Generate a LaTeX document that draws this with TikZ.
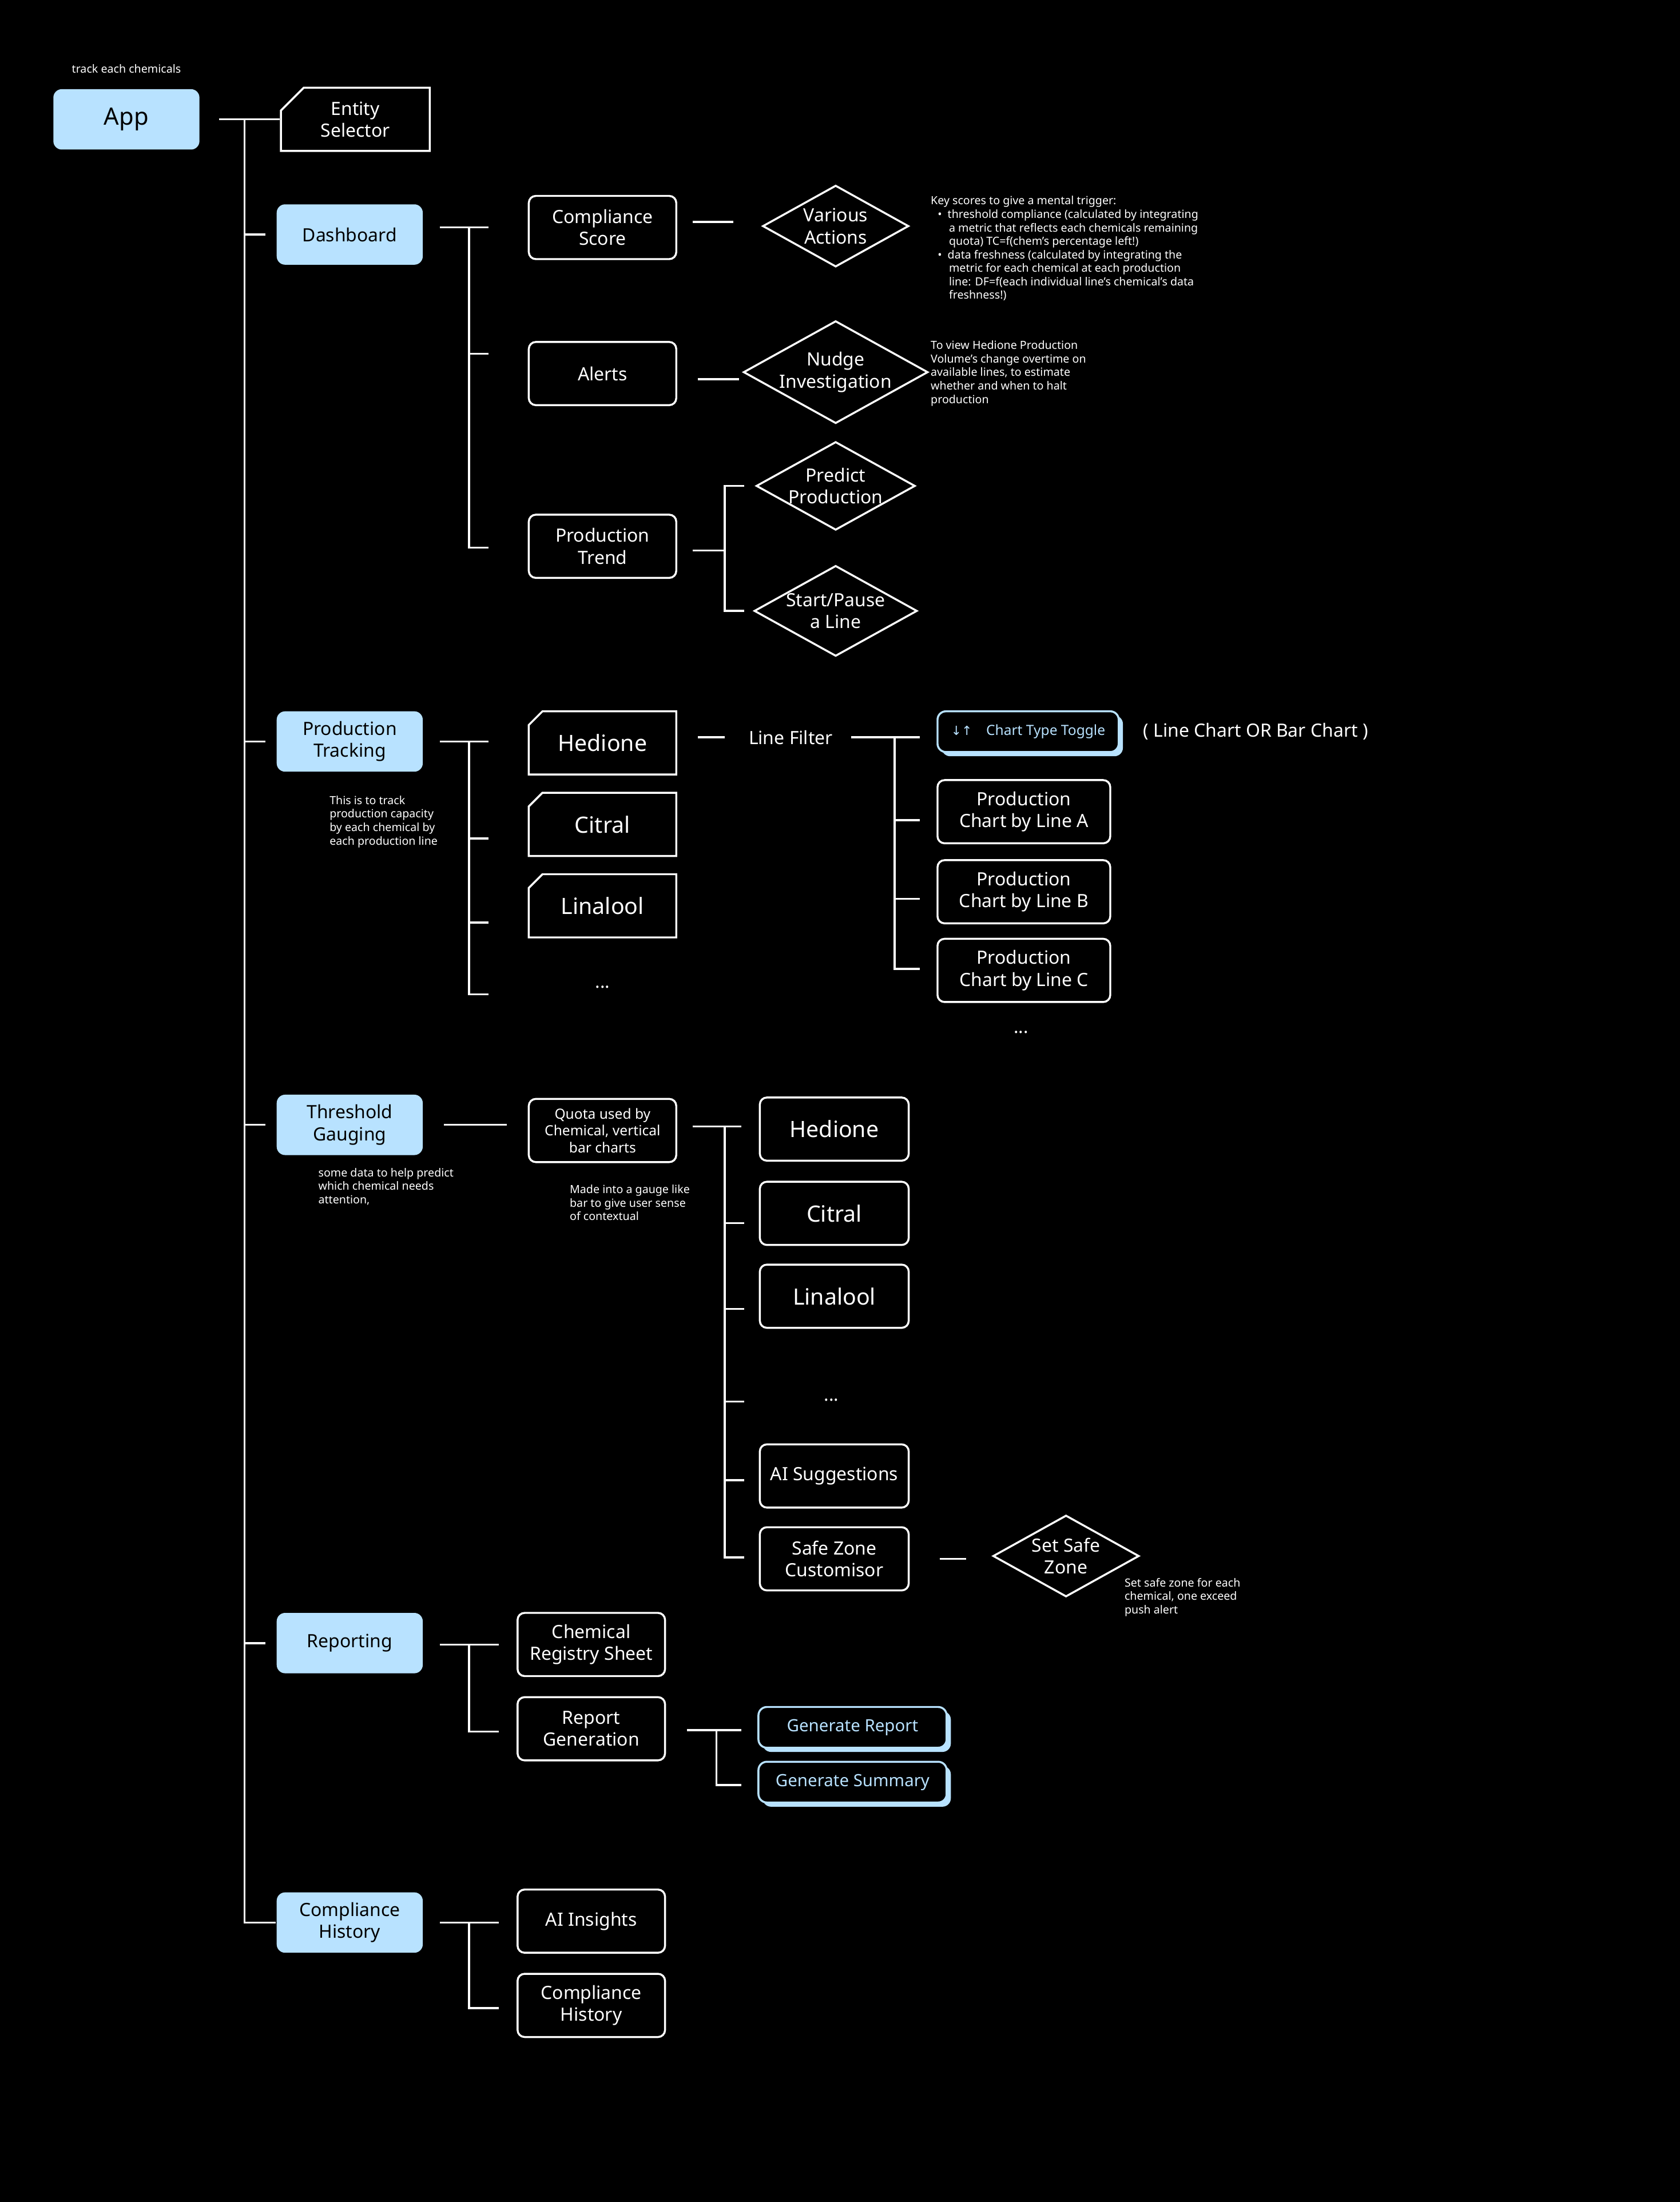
\documentclass[tikz,border=0pt]{standalone}
\usepackage{fontspec}
\setmainfont{Noto Sans}
\newfontfamily\symfont{DejaVu Sans}
\usetikzlibrary{shapes.geometric,shapes.misc,shadows}
\definecolor{skyb}{HTML}{B8E2FF}
\newcommand{\fs}[1]{\fontsize{#1}{\dimexpr #1pt*6/5\relax}\selectfont}
\begin{document}
\begin{tikzpicture}[x=1pt,y=-1pt,line width=1.4pt]
	\tikzstyle{main}=[draw=none,fill=skyb,rounded corners=6pt,minimum width=104pt,minimum height=43pt,align=center,text=black,font=\fs{13}]
	\tikzstyle{box}=[draw=white,rounded corners=5pt,minimum width=105pt,minimum height=45pt,align=center,text=white,font=\fs{13}]
	\tikzstyle{chem}=[draw=white,chamfered rectangle,chamfered rectangle corners=north west,chamfered rectangle xsep=14pt,minimum width=105pt,minimum height=45pt,align=center,text=white,font=\fs{16},inner sep=0pt]
	\tikzstyle{choice}=[draw=white,diamond,aspect=1.8,minimum width=104pt,minimum height=58pt,inner sep=0pt,align=center,text=white,font=\fs{13}]
	\tikzstyle{btn}=[draw=skyb,fill=black,rounded corners=6pt,text=skyb,align=center,general shadow={fill=skyb,shadow xshift=3pt,shadow yshift=-3pt}]
	\tikzstyle{note}=[text=white,font=\fs{8},align=left,anchor=north west,inner sep=0pt]
	\tikzstyle{plain}=[text=white,font=\fs{13}]
	\tikzstyle{link}=[draw=white]

	\fill[black] (0,0) rectangle (1196,1568);
	\useasboundingbox (0,0) rectangle (1196,1568);

	% app and main branches
	\node[note,anchor=center] (track) at (90,49) {track each chemicals};
	\node[main,font=\fs{17}] (app) at (90,85) {App};
	\node[chem,font=\fs{13},minimum width=106pt] (entity) at (253,85) {Entity\\Selector};
	\node[main] (dash) at (249,167) {Dashboard};
	\node[main] (ptrack) at (249,528) {Production\\Tracking};
	\node[main] (gauge) at (249,801) {Threshold\\Gauging};
	\node[main] (report) at (249,1170) {Reporting};
	\node[main] (hist) at (249,1369) {Compliance\\History};
	\coordinate (spine) at (174,85);
	\draw[link] (156,85) -- (entity.west);
	\draw[link] (spine) |- (hist.west);
	\foreach \n in {dash,ptrack,gauge,report} \draw[link] (spine |- \n.west) -- ++(15,0);

	% dashboard
	\node[box] (score) at (429,162) {Compliance\\Score};
	\node[box] (alerts) at (429,266) {Alerts};
	\node[box] (trend) at (429,389) {Production\\Trend};
	\node[choice] (actions) at (595,161) {Various\\Actions};
	\node[choice] (nudge) at (595,265) {Nudge\\Investigation};
	\node[choice] (predict) at (595,346) {Predict\\Production};
	\node[choice] (pause) at (595,435) {Start/Pause\\a Line};
	\coordinate (db) at (334,162);
	\draw[link] (313,162) -- (348,162);
	\draw[link] (db) -- (334,390) -- (348,390);
	\draw[link] (334,252) -- (348,252);
	\draw[link] (493,158) -- (522,158);
	\draw[link] (497,270) -- (526,270);
	\draw[link] (493,392) -- (516,392);
	\draw[link] (530,346) -| (516,435) -- (530,435);
	\node[note] (keys) at (662,139) {Key scores to give a mental trigger:\\
		\hspace*{5pt}\textbullet\hspace{4pt}threshold compliance (calculated by integrating\\
		\hspace*{13pt}a metric that reflects each chemicals remaining\\
		\hspace*{13pt}quota) TC=f(chem’s percentage left!)\\
		\hspace*{5pt}\textbullet\hspace{4pt}data freshness (calculated by integrating the\\
		\hspace*{13pt}metric for each chemical at each production\\
		\hspace*{13pt}line: DF=f(each individual line’s chemical’s data\\
		\hspace*{13pt}freshness!)};
	\node[note] (view) at (662,242) {To view Hedione Production\\Volume’s change overtime on\\available lines, to estimate\\whether and when to halt\\production};

	% production tracking
	\node[chem] (hed) at (429,529) {Hedione};
	\node[chem] (cit) at (429,587) {Citral};
	\node[chem] (lin) at (429,645) {Linalool};
	\node[plain] (pdots) at (429,703) {...};
	\draw[link] (313,528) -- (348,528);
	\draw[link] (334,528) |- (348,708);
	\draw[link] (334,597) -- (348,597);
	\draw[link] (334,657) -- (348,657);
	\node[note] (ptnote) at (234,566) {This is to track\\production capacity\\by each chemical by\\each production line};
	\node[plain] (filter) at (563,525) {Line Filter};
	\draw[link] (497,525) -- (516,525);
	\draw[link] (606,525) -- (655,525);
	\draw[link] (637,525) |- (655,690);
	\draw[link] (637,584) -- (655,584);
	\draw[link] (637,640) -- (655,640);
	\node[btn,minimum width=129pt,minimum height=29pt,font=\fs{10}] (toggle) at (732,521) {{\symfont\fs{9}↓↑}\hspace{10pt}Chart Type Toggle};
	\node[plain] (ctype) at (894,521) {( Line Chart OR Bar Chart )};
	\node[box,minimum width=123pt] (la) at (729,578) {Production\\Chart by Line A};
	\node[box,minimum width=123pt] (lb) at (729,635) {Production\\Chart by Line B};
	\node[box,minimum width=123pt] (lc) at (729,691) {Production\\Chart by Line C};
	\node[plain] (ldots) at (727,735) {...};

	% threshold gauging
	\node[box,font=\fs{10}] (quota) at (429,805) {Quota used by\\Chemical, vertical\\bar charts};
	\draw[link] (316,801) -- (361,801);
	\node[note] (gnote) at (226,831) {some data to help predict\\which chemical needs\\attention,};
	\node[note] (qnote) at (405,843) {Made into a gauge like\\bar to give user sense\\of contextual};
	\node[box,minimum width=106pt,font=\fs{16}] (ghed) at (594,804) {Hedione};
	\node[box,minimum width=106pt,font=\fs{16}] (gcit) at (594,864) {Citral};
	\node[box,minimum width=106pt,font=\fs{16}] (glin) at (594,923) {Linalool};
	\node[plain] (gdots) at (592,997) {...};
	\node[box,minimum width=106pt] (ai) at (594,1051) {AI Suggestions};
	\node[box,minimum width=106pt] (safe) at (594,1110) {Safe Zone\\Customisor};
	\draw[link] (493,802) -- (528,802);
	\draw[link] (516,802) |- (530,1109);
	\foreach \y in {871,932,998,1054} \draw[link] (516,\y) -- (530,\y);
	\node[choice] (setsafe) at (759,1108) {Set Safe\\Zone};
	\draw[link] (669,1110) -- (688,1110);
	\node[note] (snote) at (800,1123) {Set safe zone for each\\chemical, one exceed\\push alert};

	% reporting
	\node[box] (reg) at (421,1171) {Chemical\\Registry Sheet};
	\node[box] (gen) at (421,1231) {Report\\Generation};
	\draw[link] (313,1171) -- (355,1171);
	\draw[link] (334,1171) |- (355,1233);
	\node[btn,minimum width=134pt,minimum height=29pt,font=\fs{12}] (grep) at (607,1230) {Generate Report};
	\node[btn,minimum width=134pt,minimum height=29pt,font=\fs{12}] (gsum) at (607,1269) {Generate Summary};
	\draw[link] (489,1232) -- (528,1232);
	\draw[link] (510,1232) |- (528,1271);

	% compliance history
	\node[box] (insight) at (421,1368) {AI Insights};
	\node[box] (chist) at (421,1428) {Compliance\\History};
	\draw[link] (313,1369) -- (355,1369);
	\draw[link] (334,1369) |- (355,1430);
\end{tikzpicture}
\end{document}
